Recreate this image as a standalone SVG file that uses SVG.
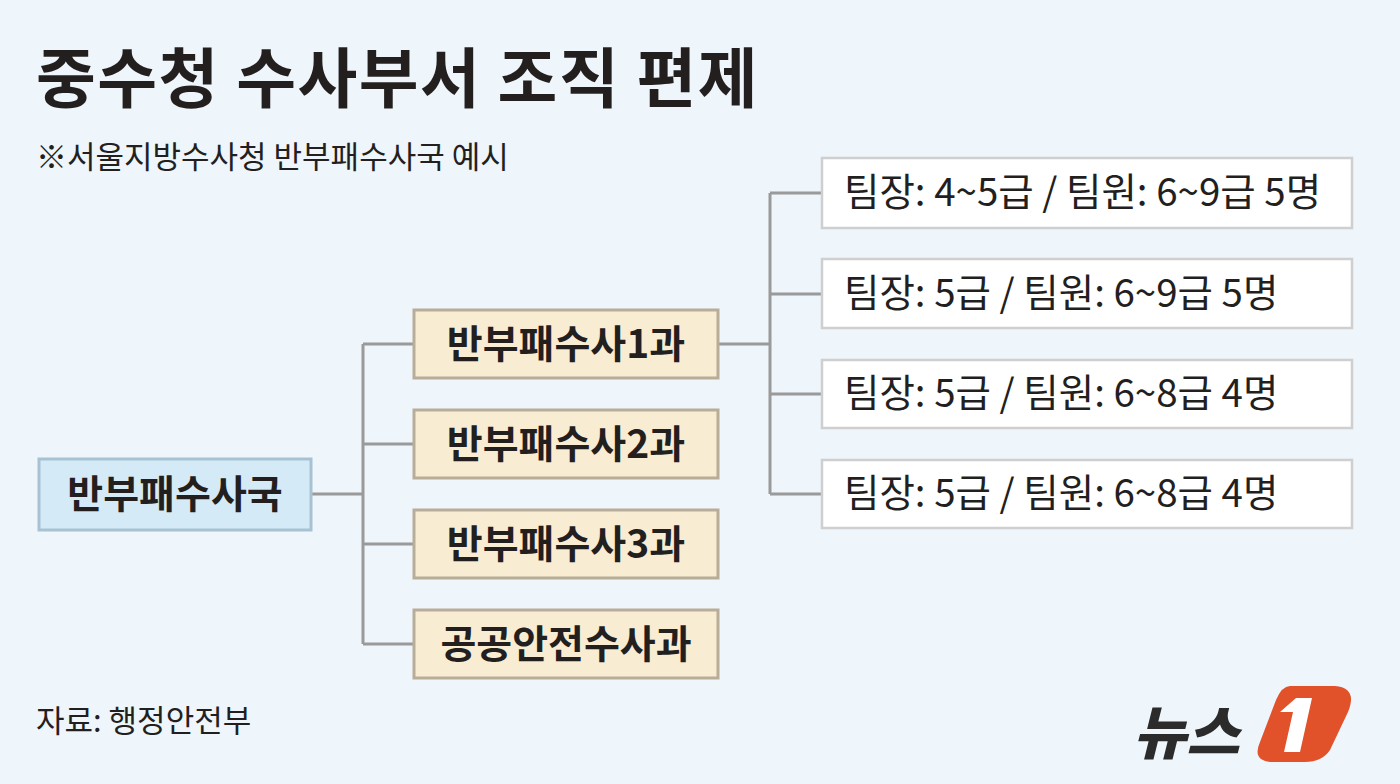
<svg xmlns="http://www.w3.org/2000/svg" width="1400" height="784" viewBox="0 0 1400 784">
<style>
text{font-family:"Noto Sans CJK KR","Noto Sans",sans-serif;fill:#231f1e}
.c{fill:none;stroke:#9a9a9a;stroke-width:3}
.mid{fill:#f8ecd2;stroke:#b8ad99;stroke-width:3}
.rt{fill:#fff;stroke:#cfcfcf;stroke-width:2.5}
.mt{font-size:39px;font-weight:700;text-anchor:middle}
.rtt{font-size:38.5px;font-weight:400}
</style>
<rect width="1400" height="784" fill="#eef5fb"/>
<text x="36" y="102" font-size="65" font-weight="700" letter-spacing="1.5">중수청 수사부서 조직 편제</text>
<text x="36" y="168" font-size="31" font-weight="400">※서울지방수사청 반부패수사국 예시</text>
<g id="connectors">
<path class="c" d="M312 494H363M363 344V644M363 344H414M363 444H414M363 544H414M363 644H414"/>
<path class="c" d="M718 344H770M770 193V494M770 193H822M770 294H822M770 394H822M770 494H822"/>
</g>
<g id="n0"><rect x="39" y="459" width="272" height="71" fill="#d5eaf7" stroke="#a7c2d3" stroke-width="3"/><text x="175" y="508" class="mt">반부패수사국</text></g>
<g id="n1"><rect class="mid" x="414" y="310" width="304" height="68"/><text x="566" y="358" class="mt">반부패수사1과</text></g>
<g id="n2"><rect class="mid" x="414" y="410" width="304" height="68"/><text x="566" y="458" class="mt">반부패수사2과</text></g>
<g id="n3"><rect class="mid" x="414" y="510" width="304" height="68"/><text x="566" y="558" class="mt">반부패수사3과</text></g>
<g id="n4"><rect class="mid" x="414" y="610" width="304" height="68"/><text x="566" y="658" class="mt">공공안전수사과</text></g>
<g id="r1"><rect class="rt" x="822" y="158" width="530" height="70"/><text x="844" y="206" class="rtt">팀장: 4~5급 / 팀원: 6~9급 5명</text></g>
<g id="r2"><rect class="rt" x="822" y="259" width="530" height="69"/><text x="844" y="307" class="rtt">팀장: 5급 / 팀원: 6~9급 5명</text></g>
<g id="r3"><rect class="rt" x="822" y="360" width="530" height="68"/><text x="844" y="407" class="rtt">팀장: 5급 / 팀원: 6~8급 4명</text></g>
<g id="r4"><rect class="rt" x="822" y="460" width="530" height="68"/><text x="844" y="507" class="rtt">팀장: 5급 / 팀원: 6~8급 4명</text></g>
<text x="36" y="732" font-size="31" font-weight="400">자료: 행정안전부</text>
<g id="logo">
<text x="1133" y="754" font-size="58" font-weight="900" font-style="italic" style="fill:#2b2b2b">뉴스</text>
<path d="M1290 686H1335Q1358 688 1348 712L1330 750Q1322 762 1305 762H1270Q1252 760 1260 742L1276 700Q1282 686 1290 686Z" fill="#e2522a"/>
<path d="M1296 698H1312L1300 752H1284L1293 712H1280Z" fill="#fff"/>
</g>
</svg>
